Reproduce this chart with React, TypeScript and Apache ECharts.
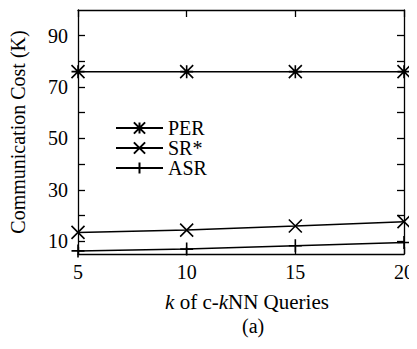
import React, { useEffect, useRef } from "react";
import * as echarts from "echarts";

const kValues = [5, 10, 15, 20];
const perValues = [76, 76, 76, 76];
const srValues = [13.4, 14.3, 15.9, 17.6];
const asrValues = [6.2, 6.9, 8.2, 9.5];
const yLabelValues = [10, 30, 50, 70, 90];
const yTickValues = [10, 20, 30, 40, 50, 60, 70, 80, 90];

const FONT = "'Liberation Serif', 'DejaVu Serif', serif";
const asterisk = "path://M0 0L10 10M10 0L0 10M5 0L5 10M0 5L10 5";
const cross = "path://M0 0L10 10M10 0L0 10";
const plus = "path://M5 0L5 10M0 5L10 5";

export default function App() {
  const ref = useRef<HTMLDivElement>(null);
  useEffect(() => {
    const chart = echarts.init(ref.current!, null, { renderer: "svg" });
    const mk = (name: string, data: number[], symbol: string, size: number) => ({
      name,
      type: "line",
      data: kValues.map((k, i) => [k, data[i]]),
      symbol,
      symbolSize: size,
      color: "#000",
      lineStyle: { color: "#000", width: 1.5 },
      itemStyle: { color: "#000", borderColor: "#000", borderWidth: 1.6 },
      clip: false,
    });
    const axisLine = { show: true, lineStyle: { color: "#000", width: 1.3 } };
    const txt = { color: "#000", fontSize: 20, fontFamily: FONT };
    chart.setOption({
      animation: false,
      backgroundColor: "#fff",
      textStyle: { fontFamily: FONT },
      grid: { left: 78, right: 6, top: 10, bottom: 95 },
      legend: {
        left: 115,
        top: 118,
        padding: 0,
        orient: "vertical",
        itemWidth: 47,
        itemHeight: 14,
        itemGap: 0,
        textStyle: { ...txt },
        data: ["PER", "SR*", "ASR"],
      },
      xAxis: [
        {
          type: "value",
          min: 5,
          max: 20,
          interval: 5,
          position: "bottom",
          axisLine,
          axisTick: { inside: true, length: 7, lineStyle: { color: "#000", width: 1.3 } },
          axisLabel: { ...txt, margin: 8 },
          splitLine: { show: false },
          name: "{i|k} of c-{i|k}NN Queries",
          nameLocation: "middle",
          nameGap: 37,
          nameTextStyle: {
            ...txt,
            fontSize: 21,
            padding: [0, 0, 0, 12],
            rich: { i: { ...txt, fontSize: 21, fontStyle: "italic" } },
          },
        },
        {
          type: "value",
          min: 5,
          max: 20,
          interval: 5,
          position: "top",
          axisLine,
          axisTick: { inside: true, length: 7, lineStyle: { color: "#000", width: 1.3 } },
          axisLabel: { show: false },
          splitLine: { show: false },
        },
      ],
      yAxis: [
        {
          type: "value",
          min: 5,
          max: 100,
          position: "left",
          axisLine,
          axisTick: {
            inside: true,
            length: 7,
            customValues: yTickValues,
            lineStyle: { color: "#000", width: 1.3 },
          },
          axisLabel: { ...txt, margin: 10, customValues: yLabelValues },
          splitLine: { show: false },
          name: "Communication Cost (K)",
          nameLocation: "middle",
          nameGap: 50,
          nameTextStyle: { ...txt },
        },
        {
          type: "value",
          min: 5,
          max: 100,
          position: "right",
          axisLine,
          axisTick: {
            inside: true,
            length: 7,
            customValues: yTickValues,
            lineStyle: { color: "#000", width: 1.3 },
          },
          axisLabel: { show: false },
          splitLine: { show: false },
        },
      ],
      graphic: [
        {
          type: "text",
          left: 242,
          top: 316,
          style: { text: "(a)", fontSize: 20, fontFamily: FONT, fill: "#000" },
        },
      ],
      series: [
        mk("PER", perValues, asterisk, 13),
        mk("SR*", srValues, cross, 13),
        mk("ASR", asrValues, plus, 13),
      ],
    });
    return () => chart.dispose();
  }, []);
  return <div ref={ref} style={{ width: 417, height: 349, margin: -8 }} />;
}
